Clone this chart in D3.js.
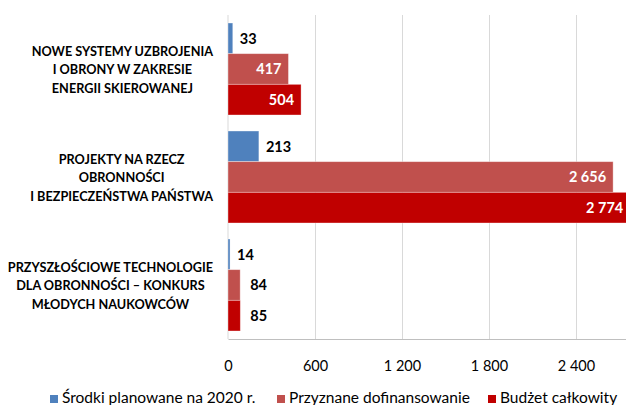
<!DOCTYPE html>
<html>
<head>
<meta charset="utf-8">
<script src="https://cdn.jsdelivr.net/npm/d3@7"></script>
<style>
  html, body { margin: 0; padding: 0; background: #fff; }
  svg { display: block; font-family: Lato, 'Open Sans', sans-serif; }
</style>
</head>
<body>
<div id="chart"></div>
<script>
// categories (top to bottom), each split into its printed lines
const categories = [
  ['NOWE SYSTEMY UZBROJENIA', 'I OBRONY W ZAKRESIE', 'ENERGII SKIEROWANEJ'],
  ['PROJEKTY NA RZECZ', 'OBRONNOŚCI', 'I BEZPIECZEŃSTWA PAŃSTWA'],
  ['PRZYSZŁOŚCIOWE TECHNOLOGIE', 'DLA OBRONNOŚCI – KONKURS', 'MŁODYCH NAUKOWCÓW']
];
const seriesNames  = ['Środki planowane na 2020 r.', 'Przyznane dofinansowanie', 'Budżet całkowity'];
const seriesColors = ['#4f81bd', '#c0504d', '#c00000'];
const planned  = [33, 213, 14];
const granted  = [417, 2656, 84];
const budget   = [504, 2774, 85];
const xTicks   = [0, 600, 1200, 1800, 2400];

const W = 626, H = 405;
const plot = { left: 228, top: 15, bottom: 339, width: 435 };

const loc = d3.formatLocale({ decimal: ',', thousands: '\u00a0', grouping: [3], currency: ['', ' zł'] });
const fmt = loc.format(',d');

const svg = d3.select('#chart').append('svg')
  .attr('width', W).attr('height', H)
  .attr('viewBox', `0 0 ${W} ${H}`);

const x  = d3.scaleLinear().domain([0, 3000]).range([plot.left, plot.left + plot.width]);
const y0 = d3.scaleBand().domain(d3.range(categories.length)).range([plot.top, plot.bottom])
  .paddingInner(0.148).paddingOuter(0.074);
const y1 = d3.scaleBand().domain(d3.range(seriesNames.length)).range([0, y0.bandwidth()]);

// grid
svg.append('g')
  .attr('transform', `translate(0,${plot.bottom})`)
  .call(d3.axisBottom(x).tickValues(xTicks.slice(1)).tickSize(-(plot.bottom - plot.top)).tickFormat(''))
  .call(g => g.select('.domain').remove())
  .call(g => g.selectAll('line').attr('stroke', '#d9d9d9').attr('stroke-width', 1));

// axis labels
svg.append('g')
  .attr('transform', `translate(0,${plot.bottom})`)
  .call(d3.axisBottom(x).tickValues(xTicks).tickSize(0).tickPadding(22).tickFormat(fmt))
  .call(g => g.select('.domain').attr('stroke', '#bfbfbf'))
  .call(g => g.selectAll('text').attr('fill', '#000').style('font-size', '14.5px').style('font-family', 'Lato, sans-serif'));

svg.append('line')
  .attr('x1', plot.left).attr('x2', plot.left)
  .attr('y1', plot.top).attr('y2', plot.bottom)
  .attr('stroke', '#d9d9d9');

const rows = [];
categories.forEach((c, i) => {
  [planned[i], granted[i], budget[i]].forEach((v, s) => rows.push({ cat: i, s, v }));
});

const bars = svg.append('g');
rows.forEach(d => {
  const by = y0(d.cat) + y1(d.s);
  bars.append('rect')
    .attr('x', x(0)).attr('y', by)
    .attr('width', x(d.v) - x(0)).attr('height', y1.bandwidth())
    .attr('fill', seriesColors[d.s])
    .attr('stroke', 'rgba(255,255,255,0.45)').attr('stroke-width', 0.8);
});

// value labels
rows.forEach(d => {
  const by = y0(d.cat) + y1(d.s) + y1.bandwidth() / 2;
  const w = x(d.v) - x(0);
  const inside = w > 50;
  svg.append('text')
    .attr('x', inside ? x(d.v) - 7 : x(d.v) + (d.s === 0 ? 7 : 10))
    .attr('y', by)
    .attr('dy', '0.36em')
    .attr('text-anchor', inside ? 'end' : 'start')
    .attr('fill', inside ? '#fff' : '#000')
    .style('font-weight', 700)
    .style('font-size', '14.5px')
    .text(fmt(d.v));
});

// category labels: block centered, widest line ending at x = 213
categories.forEach((lines, i) => {
  const cy = y0(i) + y0.bandwidth() / 2;
  const g = svg.append('g');
  const texts = lines.map((t, k) => g.append('text')
    .attr('y', cy + 5 + (k - 1) * 18.5)
    .attr('text-anchor', 'middle')
    .attr('fill', '#000')
    .style('font-weight', 700)
    .style('font-size', '12.7px')
    .text(t));
  const maxW = d3.max(texts, t => t.node().getComputedTextLength());
  texts.forEach(t => t.attr('x', 213 - maxW / 2));
});

// legend
const legX = [50, 277, 488];
seriesNames.forEach((n, s) => {
  svg.append('rect')
    .attr('x', legX[s]).attr('y', 395).attr('width', 8).attr('height', 8)
    .attr('fill', seriesColors[s]);
  svg.append('text')
    .attr('x', legX[s] + 12).attr('y', 403)
    .attr('fill', '#000')
    .style('font-size', '15.5px')
    .text(n);
});
</script>
</body>
</html>
